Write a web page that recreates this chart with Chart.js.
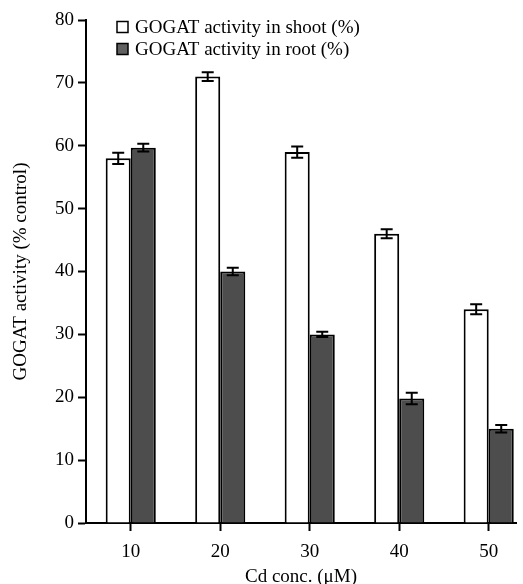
<!DOCTYPE html>
<html lang="en">
<head>
    <meta charset="UTF-8">
    <title>GOGAT activity</title>
    <script src="https://cdn.jsdelivr.net/npm/chart.js"></script>
    <style>
        html, body { margin: 0; padding: 0; background: #fff; }
        #wrap { width: 523px; height: 584px; }
    </style>
</head>
<body>
    <div id="wrap"><canvas id="myChart" width="523" height="584"></canvas></div>

    <script>
        // Cd concentrations (µM)
        var concLabels = [10, 20, 30, 40, 50];
        // shoot
        var shootValues = [58, 71, 59, 46, 34];
        var shootErrors = [0.9, 0.7, 0.9, 0.7, 0.8];
        // root
        var rootValues = [59.7, 40, 30, 19.8, 15];
        var rootErrors = [0.6, 0.6, 0.4, 0.9, 0.6];
        var yTicks = [0, 10, 20, 30, 40, 50, 60, 70, 80];

        var serif = "'Liberation Serif', 'Times New Roman', serif";

        // error bars drawn from the value scale
        var errorBars = {
            id: 'errorBars',
            afterDatasetsDraw: function (chart) {
                var ctx = chart.ctx;
                var yScale = chart.scales.y;
                ctx.save();
                ctx.strokeStyle = '#000';
                ctx.lineWidth = 2;
                chart.data.datasets.forEach(function (ds, di) {
                    var meta = chart.getDatasetMeta(di);
                    meta.data.forEach(function (bar, i) {
                        var v = ds.data[i].y;
                        var e = ds.errors[i];
                        var top = yScale.getPixelForValue(v + e);
                        var bot = yScale.getPixelForValue(v - e);
                        var x = bar.x;
                        ctx.beginPath();
                        ctx.moveTo(x, top); ctx.lineTo(x, bot);
                        ctx.moveTo(x - 6, top); ctx.lineTo(x + 6, top);
                        ctx.moveTo(x - 6, bot); ctx.lineTo(x + 6, bot);
                        ctx.stroke();
                    });
                });
                ctx.restore();
            }
        };

        // legend inside the plot, top left
        var insideLegend = {
            id: 'insideLegend',
            afterDraw: function (chart) {
                var ctx = chart.ctx;
                var area = chart.chartArea;
                var x = area.left + 31;
                var y = area.top + 7;
                ctx.save();
                ctx.font = '19px ' + serif;
                ctx.textBaseline = 'middle';
                ctx.textAlign = 'left';
                chart.data.datasets.forEach(function (ds, i) {
                    var cy = y + i * 22;
                    ctx.fillStyle = ds.legendColor;
                    ctx.fillRect(x, cy - 5.5, 11, 11);
                    ctx.strokeStyle = '#000';
                    ctx.lineWidth = 1.5;
                    ctx.strokeRect(x, cy - 5.5, 11, 11);
                    ctx.fillStyle = '#000';
                    ctx.fillText(ds.label, x + 18, cy + 1);
                });
                ctx.restore();
            }
        };

        function points(values) {
            return concLabels.map(function (c, i) { return { x: c, y: values[i] }; });
        }

        var ctx = document.getElementById('myChart').getContext('2d');
        var myChart = new Chart(ctx, {
            type: 'bar',
            data: {
                datasets: [{
                    label: 'GOGAT activity in shoot (%)',
                    data: points(shootValues),
                    errors: shootErrors,
                    backgroundColor: '#ffffff',
                    legendColor: '#ffffff',
                    borderColor: '#000000',
                    borderWidth: 2
                }, {
                    label: 'GOGAT activity in root (%)',
                    data: points(rootValues),
                    errors: rootErrors,
                    backgroundColor: '#4d4d4d',
                    legendColor: '#606060',
                    borderColor: '#000000',
                    borderWidth: 2
                }]
            },
            options: {
                responsive: false,
                animation: false,
                barPercentage: 1,
                categoryPercentage: 0.56,
                layout: { padding: { top: 20, right: 7, left: 12, bottom: 0 } },
                plugins: {
                    tooltip: { enabled: false },
                    legend: { display: false }
                },
                scales: {
                    x: {
                        type: 'linear',
                        offset: false,
                        min: 5,
                        max: 53.05,
                        afterBuildTicks: function (scale) {
                            scale.ticks = concLabels.map(function (v) { return { value: v }; });
                        },
                        grid: { display: true, offset: false, drawOnChartArea: false, drawTicks: true, tickLength: 8, tickWidth: 2, tickColor: '#000' },
                        border: { display: true, color: '#000', width: 2 },
                        ticks: { color: '#000', padding: 12, font: { family: serif, size: 19, lineHeight: 1 } },
                        title: { display: true, text: 'Cd conc. (μM)', color: '#000', padding: { top: -6, bottom: -3 }, font: { family: serif, size: 19, lineHeight: 1 } }
                    },
                    y: {
                        min: 0,
                        max: 80,
                        afterBuildTicks: function (scale) {
                            scale.ticks = yTicks.map(function (v) { return { value: v }; });
                        },
                        grid: { display: true, drawOnChartArea: false, drawTicks: true, tickLength: 8, tickWidth: 2, tickColor: '#000' },
                        border: { display: true, color: '#000', width: 2 },
                        ticks: { color: '#000', padding: 4, font: { family: serif, size: 19, lineHeight: 1 } },
                        title: { display: true, text: 'GOGAT activity (% control)', color: '#000', padding: { top: 0, bottom: 20 }, font: { family: serif, size: 19, lineHeight: 1 } }
                    }
                }
            },
            plugins: [errorBars, insideLegend]
        });
    </script>
</body>
</html>
